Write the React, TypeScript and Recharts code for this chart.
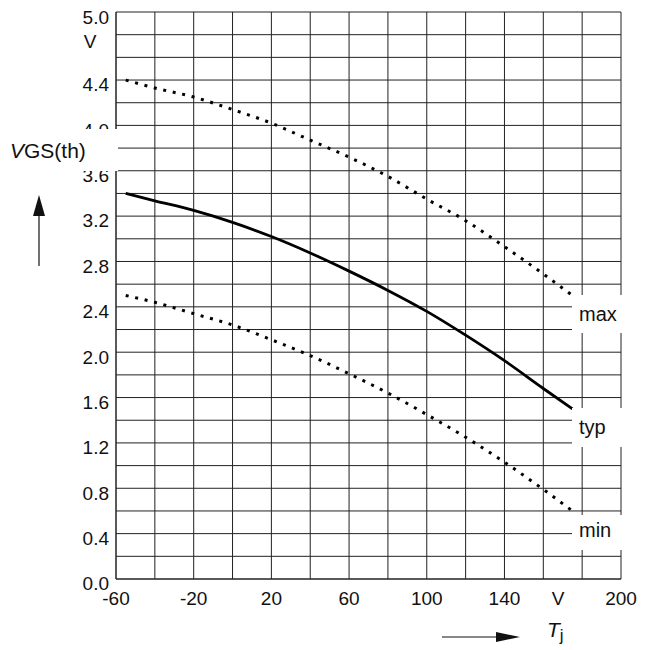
import React from 'react';
import { LineChart, Line, XAxis, YAxis, CartesianGrid } from 'recharts';

const temps = [-55, -40, -20, 0, 20, 40, 60, 80, 100, 120, 140, 160, 175];
const maxV = [4.4, 4.33, 4.25, 4.14, 4.02, 3.87, 3.72, 3.55, 3.35, 3.16, 2.93, 2.69, 2.5];
const typV = [3.4, 3.335, 3.25, 3.145, 3.02, 2.875, 2.715, 2.545, 2.36, 2.15, 1.925, 1.68, 1.5];
const minV = [2.5, 2.44, 2.34, 2.24, 2.11, 1.97, 1.81, 1.64, 1.45, 1.25, 1.03, 0.79, 0.6];

const xGrid = [-60, -40, -20, 0, 20, 40, 60, 80, 100, 120, 140, 160, 180, 200];
const xLabels: Record<string, string> = { '-60': '-60', '-20': '-20', '20': '20', '60': '60', '100': '100', '140': '140', '200': '200' };
const yGrid = [0, 0.2, 0.4, 0.6, 0.8, 1, 1.2, 1.4, 1.6, 1.8, 2, 2.2, 2.4, 2.6, 2.8, 3, 3.2, 3.4, 3.6, 3.8, 4, 4.2, 4.4, 4.6, 4.8, 5];
const yLabels = ['0.0', '0.4', '0.8', '1.2', '1.6', '2.0', '2.4', '2.8', '3.2', '3.6', '4.0', '4.4'];
const xUnit = 'V';
const yUnit = 'V';

const data = temps.map((t, i) => ({ t, max: maxV[i], typ: typV[i], min: minV[i] }));

const FONT = 'Liberation Sans, Arial, sans-serif';
const INK = '#111';
const GRID = '#222';
const FS = 19;

const XTick = (props: any) => {
  const { x, y, payload } = props;
  const v = payload.value;
  const key = String(v);
  if (v === 180) {
    return (
      <text x={x - 24} y={y + 18} textAnchor="middle" fontSize={FS} fontFamily={FONT} fill={INK}>{xUnit}</text>
    );
  }
  if (!(key in xLabels)) return null;
  return (
    <text x={x} y={y + 18} textAnchor="middle" fontSize={FS} fontFamily={FONT} fill={INK}>{xLabels[key]}</text>
  );
};

const YTick = (props: any) => {
  const { x, y, payload } = props;
  const v = payload.value as number;
  if (Math.abs(v - 4.8) < 1e-6) {
    return <text x={x - 18} y={y + 13} textAnchor="middle" fontSize={FS} fontFamily={FONT} fill={INK}>{yUnit}</text>;
  }
  if (Math.abs(v - 5) < 1e-6) {
    return <text x={x + 1} y={y + 11.5} textAnchor="end" fontSize={FS} fontFamily={FONT} fill={INK}>5.0</text>;
  }
  const lbl = v.toFixed(1);
  if (!yLabels.includes(lbl)) return null;
  return <text x={x + 1} y={y + 11.3} textAnchor="end" fontSize={FS} fontFamily={FONT} fill={INK}>{lbl}</text>;
};

export default function App() {
  return (
    <div style={{ position: 'absolute', left: 0, top: 0, width: 649, height: 650, background: '#fff' }}>
      <LineChart width={649} height={650} data={data} margin={{ top: 12, right: 28, bottom: 41, left: 56 }}>
        <CartesianGrid stroke={GRID} strokeWidth={1} />
        <XAxis
          dataKey="t"
          type="number"
          domain={[-60, 200]}
          ticks={xGrid}
          interval={0}
          allowDataOverflow
          axisLine={{ stroke: GRID }}
          tickLine={false}
          tick={<XTick />}
          height={30}
        />
        <YAxis
          type="number"
          domain={[0, 5]}
          ticks={yGrid}
          interval={0}
          allowDataOverflow
          axisLine={{ stroke: GRID }}
          tickLine={false}
          tick={<YTick />}
          width={60}
        />
        <Line dataKey="max" type="monotone" stroke="#000" strokeWidth={3} strokeDasharray="3 6.7" dot={false} isAnimationActive={false} />
        <Line dataKey="typ" type="monotone" stroke="#000" strokeWidth={2.8} dot={false} isAnimationActive={false} />
        <Line dataKey="min" type="monotone" stroke="#000" strokeWidth={3} strokeDasharray="3 6.7" dot={false} isAnimationActive={false} />
      </LineChart>
      <svg width={649} height={650} style={{ position: 'absolute', left: 0, top: 0, pointerEvents: 'none' }}>
        <rect x={0} y={129} width={118} height={42} fill="#fff" />
        <text x={10} y={158} fontFamily={FONT} fontSize={21} fill={INK}>
          <tspan fontStyle="italic">V</tspan>
          <tspan>GS(th)</tspan>
        </text>
        <line x1={39} y1={266} x2={39} y2={212} stroke={INK} strokeWidth={1.2} />
        <polygon points="39,195 33,216 45,216" fill={INK} />
        <rect x={572} y={295} width={60} height={38} fill="#fff" />
        <rect x={572} y={408} width={60} height={39} fill="#fff" />
        <rect x={572} y={515} width={60} height={35} fill="#fff" />
        <text x={579} y={321} fontFamily={FONT} fontSize={20} fill={INK}>max</text>
        <text x={579} y={434} fontFamily={FONT} fontSize={20} fill={INK}>typ</text>
        <text x={579} y={537} fontFamily={FONT} fontSize={20} fill={INK}>min</text>
        <line x1={442} y1={637} x2={500} y2={637} stroke={INK} strokeWidth={1.2} />
        <polygon points="520,637 496,632 496,642" fill={INK} />
        <text x={547} y={637} fontFamily={FONT} fontSize={21} fill={INK}>
          <tspan fontStyle="italic">T</tspan>
          <tspan fontSize={17} dy={4}>j</tspan>
        </text>
      </svg>
    </div>
  );
}
